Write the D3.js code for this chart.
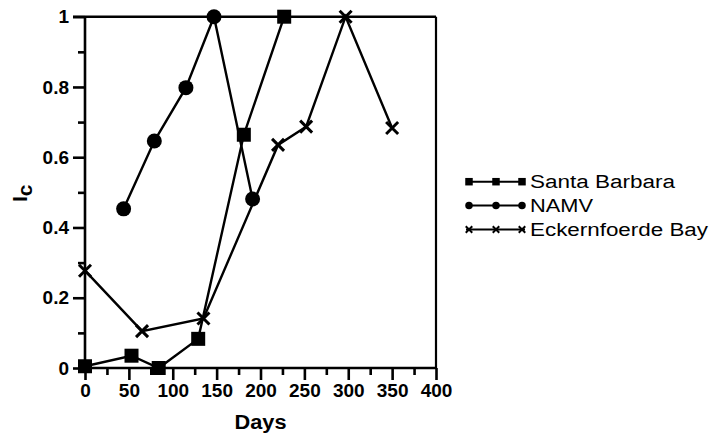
<!DOCTYPE html>
<html>
<head>
<meta charset="utf-8">
<script src="https://cdn.jsdelivr.net/npm/d3@7"></script>
<style>
  html, body { margin: 0; padding: 0; background: #fff; }
  svg { display: block; font-family: "Liberation Sans", Arial, sans-serif; }
</style>
</head>
<body>
<svg id="chart" width="711" height="435"></svg>
<script>
// ---- data ----
const seriesNames = ["Santa Barbara", "NAMV", "Eckernfoerde Bay"];
const santaBarbaraDays = [0, 53, 84, 129, 181, 227];
const santaBarbaraIc   = [0.005, 0.035, 0.0, 0.083, 0.664, 1.0];
const namvDays = [44, 79, 115, 147, 191];
const namvIc   = [0.453, 0.646, 0.798, 1.0, 0.481];
const eckDays = [0, 65, 135, 220, 252, 297, 350];
const eckIc   = [0.277, 0.105, 0.141, 0.635, 0.687, 1.0, 0.683];
const xTicks = [0, 50, 100, 150, 200, 250, 300, 350, 400];
const yTicks = [0, 0.2, 0.4, 0.6, 0.8, 1];
const yTickLabels = ["0", "0.2", "0.4", "0.6", "0.8", "1"];

const svg = d3.select("#chart");
const x = d3.scaleLinear().domain([0, 400]).range([85, 436]);
const y = d3.scaleLinear().domain([0, 1]).range([368, 16.7]);

const AX = 2.6;

// frame: top and right lines
svg.append("line").attr("x1", x(0) - 12).attr("x2", x(400)).attr("y1", y(1)).attr("y2", y(1))
  .attr("stroke", "#000").attr("stroke-width", AX);
svg.append("line").attr("x1", x(400)).attr("x2", x(400)).attr("y1", y(1)).attr("y2", y(0))
  .attr("stroke", "#000").attr("stroke-width", 2.2);

// minor ticks
const xMinor = d3.range(25, 400, 50);
const yMinor = d3.range(0.1, 1, 0.2);
const xMinorAxis = d3.axisBottom(x).tickValues(xMinor).tickSize(7).tickFormat("");
const yMinorAxis = d3.axisLeft(y).tickValues(yMinor).tickSize(7).tickFormat("");
svg.append("g").attr("transform", `translate(0,${y(0)})`).call(xMinorAxis)
  .call(g => g.select(".domain").remove())
  .call(g => g.selectAll("line").attr("stroke-width", AX));
svg.append("g").attr("transform", `translate(${x(0)},0)`).call(yMinorAxis)
  .call(g => g.select(".domain").remove())
  .call(g => g.selectAll("line").attr("stroke-width", AX));

// major axes
const xAxis = d3.axisBottom(x).tickValues(xTicks).tickSize(12).tickSizeOuter(0).tickPadding(4);
const yAxis = d3.axisLeft(y).tickValues(yTicks).tickSize(12).tickSizeOuter(0).tickPadding(4)
  .tickFormat((d, i) => yTickLabels[i]);
const gx = svg.append("g").attr("transform", `translate(0,${y(0)})`).call(xAxis);
const gy = svg.append("g").attr("transform", `translate(${x(0)},0)`).call(yAxis);
[gx, gy].forEach(g => {
  g.select(".domain").attr("stroke-width", AX);
  g.selectAll("line").attr("stroke-width", AX);
  g.selectAll("text").attr("font-size", 19).attr("font-weight", "bold")
    .attr("font-family", "Liberation Sans, Arial, sans-serif").attr("fill", "#000");
});
gx.select(".domain").attr("d", `M${x(0)},0H${x(400)}`);
gy.select(".domain").attr("d", `M0,${y(0)}V${y(1)}`);

// axis titles
svg.append("text").attr("x", (x(0) + x(400)) / 2).attr("y", 429).attr("text-anchor", "middle")
  .attr("font-size", 20).attr("font-weight", "bold").attr("textLength", 52)
  .attr("lengthAdjust", "spacingAndGlyphs").text("Days");
const yl = svg.append("text").attr("transform", "translate(27,202) rotate(-90)")
  .attr("font-size", 21).attr("font-weight", "bold");
yl.append("tspan").text("I");
yl.append("tspan").attr("dy", 5).text("c");

// markers
function drawMarker(g, type, size, sw) {
  const h = size / 2;
  if (type === "square") {
    g.append("rect").attr("x", -h).attr("y", -h).attr("width", size).attr("height", size).attr("fill", "#000");
  } else if (type === "circle") {
    g.append("circle").attr("r", h).attr("fill", "#000");
  } else {
    g.append("path").attr("d", `M${-h},${-h}L${h},${h}M${-h},${h}L${h},${-h}`)
      .attr("stroke", "#000").attr("stroke-width", sw).attr("fill", "none");
  }
}

const series = [
  { name: seriesNames[0], days: santaBarbaraDays, ic: santaBarbaraIc, marker: "square", size: 14 },
  { name: seriesNames[1], days: namvDays, ic: namvIc, marker: "circle", size: 15 },
  { name: seriesNames[2], days: eckDays, ic: eckIc, marker: "cross", size: 12 }
];

const line = d3.line().x(d => x(d[0])).y(d => y(d[1]));
series.forEach(s => {
  const pts = s.days.map((d, i) => [d, s.ic[i]]);
  svg.append("path").attr("d", line(pts)).attr("fill", "none").attr("stroke", "#000").attr("stroke-width", 2.4);
});
series.forEach(s => {
  s.days.forEach((d, i) => {
    const g = svg.append("g").attr("transform", `translate(${x(d)},${y(s.ic[i])})`);
    drawMarker(g, s.marker, s.size, 3);
  });
});

// legend
const legendRows = [181.7, 205.5, 229.5];
const legendLen = [145, 63, 178];
series.forEach((s, i) => {
  const ly = legendRows[i];
  svg.append("line").attr("x1", 466).attr("x2", 525).attr("y1", ly).attr("y2", ly)
    .attr("stroke", "#000").attr("stroke-width", 2);
  [469, 496, 522].forEach(mx => {
    const g = svg.append("g").attr("transform", `translate(${mx},${ly})`);
    drawMarker(g, s.marker, s.marker === "cross" ? 6.5 : 7.5, 2);
  });
  svg.append("text").attr("x", 530).attr("y", ly + 6.5).attr("font-size", 18)
    .attr("textLength", legendLen[i]).attr("lengthAdjust", "spacingAndGlyphs").text(s.name);
});
</script>
</body>
</html>
